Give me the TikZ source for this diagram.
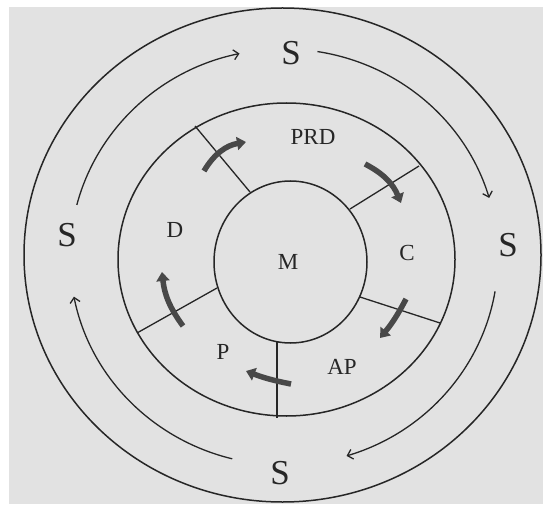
\documentclass[tikz,border=0pt]{standalone}
\usepackage{fontspec}
\setmainfont{Liberation Serif}
\usetikzlibrary{arrows.meta}
\definecolor{paper}{RGB}{226,226,226}
\definecolor{ink}{RGB}{38,38,38}
\definecolor{marker}{RGB}{72,72,72}
\begin{document}
\begin{tikzpicture}[x=1pt,y=1pt,
  ring/.style={draw=ink, line width=1.5pt},
  divider/.style={draw=ink, line width=1.3pt},
  flow/.style={draw=ink, line width=1.3pt, -{Straight Barb[length=5pt,width=10pt]}},
  push/.style={draw=marker, line width=5.5pt, -{Triangle[length=9pt,width=13pt]}},
  big/.style={font=\fontsize{35}{40}\selectfont, text=ink, inner sep=0pt},
  lab/.style={font=\fontsize{23}{27}\selectfont, text=ink, inner sep=0pt}]
\useasboundingbox (0,0) rectangle (543,504);
\fill[white] (0,0) rectangle (543,504);
\fill[paper] (9,0) rectangle (543,497);
% centres
\coordinate (oc) at (282.5,249);
\coordinate (mc) at (286.5,244.5);
\coordinate (ic) at (290.5,242);
\coordinate (ac) at (284,247);
% rings
\draw[ring] (oc) ellipse [x radius=258.5, y radius=247];
\draw[ring] (mc) ellipse [x radius=168.5, y radius=156.5];
\draw[ring] (ic) ellipse [x radius=76.5, y radius=81];
% dividers
\coordinate (d1i) at (250,312); \coordinate (d1o) at (195,378);
\coordinate (d2i) at (350,295); \coordinate (d2o) at (419,338);
\coordinate (d3i) at (360,207); \coordinate (d3o) at (440,181);
\coordinate (d4i) at (217,216); \coordinate (d4o) at (137,171);
\coordinate (d5i) at (277,162); \coordinate (d5o) at (277,86);
\draw[divider] (d1i) -- (d1o);
\draw[divider] (d2i) -- (d2o);
\draw[divider] (d3i) -- (d3o);
\draw[divider] (d4i) -- (d4o);
\draw[divider] (d5i) -- (d5o);
% labels
\node[big] (st) at (291,451) {S};
\node[big] (sl) at (67,269) {S};
\node[big] (sr) at (508,259) {S};
\node[big] (sb) at (280,31) {S};
\node[lab] (prd) at (313,367) {PRD};
\node[lab] (d) at (175,274) {D};
\node[lab] (m) at (288,242) {M};
\node[lab] (c) at (407,251) {C};
\node[lab] (p) at (223,152) {P};
\node[lab] (ap) at (342,137) {AP};
% outer flow arcs
\draw[flow] (ac) ++(81:214 and 208) arc[start angle=81, end angle=16.5, x radius=214, y radius=208];
\draw[flow] (ac) ++(-9.5:214 and 208) arc[start angle=-9.5, end angle=-73, x radius=214, y radius=208];
\draw[flow] (ac) ++(-104:214 and 208) arc[start angle=-104, end angle=-169, x radius=214, y radius=208];
\draw[flow] (ac) ++(165.5:214 and 208) arc[start angle=165.5, end angle=102, x radius=214, y radius=208];
% thick arrows
\coordinate (a1s) at (204,333); \coordinate (a1e) at (246,362);
\coordinate (a2s) at (365,340); \coordinate (a2e) at (401,301);
\coordinate (a3s) at (406,205); \coordinate (a3e) at (380,166);
\coordinate (a4s) at (291,120); \coordinate (a4e) at (246,133);
\coordinate (a5s) at (183,178); \coordinate (a5e) at (162,232);
\draw[push] (a1s) to[bend left=25] (a1e);
\draw[push] (a2s) to[bend left=20] (a2e);
\draw[push] (a3s) to[bend left=6] (a3e);
\draw[push] (a4s) to[bend left=5] (a4e);
\draw[push] (a5s) to[bend left=15] (a5e);
\end{tikzpicture}
\end{document}
